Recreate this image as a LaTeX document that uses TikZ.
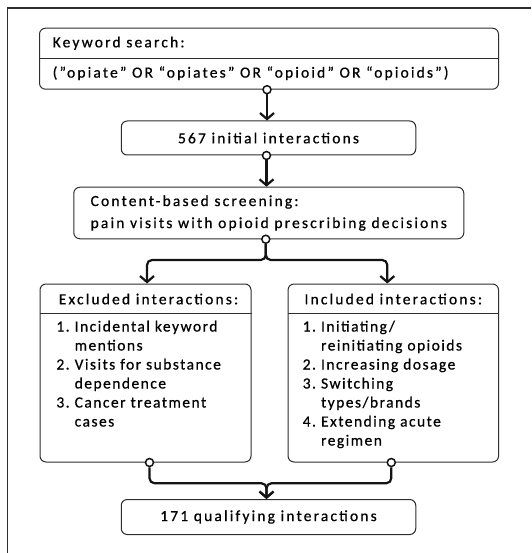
\documentclass[tikz,border=0pt]{standalone}
\usepackage{fontspec}
\setmainfont{Carlito}[LetterSpace=14, FakeBold=0.6]
\newfontfamily\listfont{Carlito}[LetterSpace=9.5, FakeBold=0.6]
\usetikzlibrary{arrows.meta, positioning}
\definecolor{box-line}{HTML}{2E2E2E}
\definecolor{flow-line}{HTML}{141414}
\tikzset{
  kbox/.style={
    draw=box-line, line width=1pt, fill=white, rounded corners=6pt,
    inner sep=0pt, align=center
  },
  ktext/.style={font=\fontsize{15.5}{19}\selectfont, inner sep=0pt},
  klist/.style={font=\listfont\fontsize{15.5}{19}\selectfont, inner sep=0pt,
    anchor=base west},
  kport/.style={circle, draw=flow-line, line width=1.5pt, fill=white,
    minimum size=8pt, inner sep=0pt},
  kflow/.style={draw=flow-line, line width=2.2pt, rounded corners=5pt,
    -{Straight Barb[length=6pt, width=14pt]}}
}

\begin{document}
\begin{tikzpicture}[x=1pt, y=-1pt]
  \useasboundingbox (0,0) rectangle (531,553);

  % ---- Frame (only its left and top edges are in view) ------------------
  \draw[line width=1.3pt, draw=box-line] (7.5,553) -- (7.5,8) -- (531,8);

  % ---- Boxes --------------------------------------------------------------
  \node[kbox, minimum width=459pt, minimum height=61pt] (kw) at (269,58.7) {};
  \node[kbox, ktext, minimum width=294.5pt, minimum height=34pt] (init)
    at (268.5,138) {567 initial interactions};
  \node[kbox, ktext, font=\fontsize{15.5}{22}\selectfont, align=left,
    minimum width=390pt, minimum height=51.5pt] (scr) at (268.8,213)
    {Content-based screening:\\pain visits with opioid prescribing decisions};
  \node[kbox, minimum width=211pt, minimum height=178pt] (exc) at (145.5,373) {};
  \node[kbox, minimum width=210.5pt, minimum height=178pt] (inc) at (393.3,373) {};
  \node[kbox, ktext, minimum width=294.5pt, minimum height=35pt] (qual)
    at (268.5,517) {171 qualifying interactions};

  % ---- Keyword box: header and query --------------------------------------
  \draw[draw=box-line, line width=1pt]
    ([yshift=-30.7pt]kw.north west) -- ([yshift=-30.7pt]kw.north east);
  \node[ktext, anchor=west] (kw-head) at ([xshift=13.5pt, yshift=-15.5pt]kw.north west)
    {Keyword search:};
  \node[ktext, anchor=west] (kw-query) at ([xshift=13.5pt, yshift=-45.5pt]kw.north west)
    {(”opiate” OR “opiates” OR “opioid” OR “opioids”)};

  % ---- Excluded / included boxes ------------------------------------------
  \foreach \b in {exc, inc} {
    \draw[draw=box-line, line width=1pt]
      ([yshift=-30pt]\b.north west) -- ([yshift=-30pt]\b.north east);
  }
  \node[ktext] (exc-head) at ([xshift=3pt, yshift=-15.5pt]exc.north) {Excluded interactions:};
  \node[ktext] (inc-head) at ([yshift=-15.5pt]inc.north) {Included interactions:};

  \node[klist] (exc-list) at ([xshift=16.7pt, yshift=-48pt]exc.north west) {%
    \begin{tabular}[t]{@{}p{18.3pt}@{}l@{}}
      1. & Incidental keyword\\
         & mentions\\
      2. & Visits for substance\\
         & dependence\\
      3. & Cancer treatment\\
         & cases
    \end{tabular}};
  \node[klist] (inc-list) at ([xshift=15pt, yshift=-48pt]inc.north west) {%
    \begin{tabular}[t]{@{}p{18.3pt}@{}l@{}}
      1. & Initiating/\\
         & reinitiating opioids\\
      2. & Increasing dosage\\
      3. & Switching\\
         & types/brands\\
      4. & Extending acute\\
         & regimen
    \end{tabular}};

  % ---- Ports --------------------------------------------------------------
  \node[kport] (kw-out) at ([xshift=-2pt]kw.south) {};
  \node[kport] (init-out) at ([xshift=-2pt]init.south) {};
  \node[kport] (scr-out) at ([xshift=-3pt]scr.south) {};
  \node[kport] (exc-out) at ([xshift=4pt]exc.south) {};
  \node[kport] (inc-out) at ([xshift=-2pt]inc.south) {};

  % ---- Flow ---------------------------------------------------------------
  \draw[kflow] (kw-out) -- (kw-out |- init.north);
  \draw[kflow] (init-out) -- (init-out |- scr.north);
  \draw[kflow] (scr-out.south) -- ++(0,16) -| ([xshift=1.5pt]exc.north);
  \draw[kflow] (scr-out.south) -- ++(0,16) -| ([xshift=-6pt]inc.north);
  \draw[kflow] (exc-out.south) -- ++(0,16) -| ([xshift=-2pt]qual.north);
  \draw[kflow] (inc-out.south) -- ++(0,16) -| ([xshift=-2pt]qual.north);

\end{tikzpicture}
\end{document}
